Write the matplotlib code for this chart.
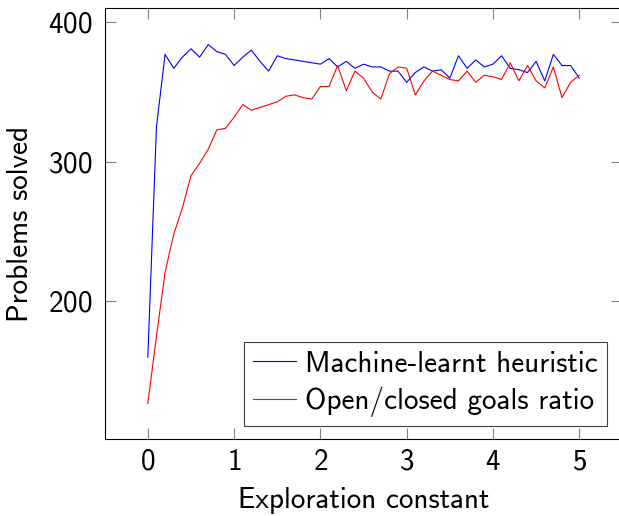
import matplotlib
matplotlib.use("Agg")
import matplotlib.pyplot as plt

# exploration constant grid (0.0 .. 5.0 step 0.1)
exploration = [i / 10 for i in range(51)]

machine_learnt = [160, 325, 377, 367, 375, 381, 375, 384, 379, 377,
                  369, 375, 380, 372, 365, 376, 374, 373, 372, 371,
                  370, 374, 368, 372, 367, 370, 368, 368, 365, 365,
                  357, 364, 368, 365, 366, 360, 376, 367, 373, 368,
                  370, 376, 367, 366, 364, 372, 358, 377, 369, 369,
                  360]

open_closed = [127, 175, 221, 248, 267, 290, 299, 309, 323, 324,
               332, 341, 337, 339, 341, 343, 347, 348, 346, 345,
               354, 354, 369, 351, 365, 360, 350, 345, 363, 368,
               367, 348, 358, 365, 362, 359, 358, 365, 357, 362,
               361, 359, 371, 358, 369, 358, 353, 368, 346, 357,
               362]

x_ticks = [0, 1, 2, 3, 4, 5]
y_ticks = [200, 300, 400]

plt.rcParams['font.family'] = ['cmss10', 'DejaVu Sans']
plt.rcParams['font.size'] = 21
plt.rcParams['axes.formatter.use_mathtext'] = True

fig = plt.figure(figsize=(6.19, 5.16), dpi=100)
ax = fig.add_axes([0.1691, 0.1492, 0.8364, 0.8347])

ax.plot(exploration, machine_learnt, color='blue', lw=0.8, label='Machine-learnt heuristic')
ax.plot(exploration, open_closed, color='red', lw=0.8, label='Open/closed goals ratio')

ax.set_xlim(-0.5, 5.5)
ax.set_ylim(101.5, 410)
ax.set_xticks(x_ticks)
ax.set_yticks(y_ticks)
ax.tick_params(direction='in', length=8, width=0.8, color='0.5',
               top=True, right=True, labelcolor='black')
ax.tick_params(axis='x', pad=7)
ax.tick_params(axis='y', pad=9)
for s in ax.spines.values():
    s.set_linewidth(0.8)

ax.set_xlabel('Exploration constant', labelpad=8)
ax.set_ylabel('Problems solved', labelpad=10)

leg = ax.legend(loc='lower right', bbox_to_anchor=(0.980, 0.175),
                bbox_transform=fig.transFigure, borderaxespad=0,
                fancybox=False, framealpha=1, edgecolor='0.25',
                handlelength=1.5, handletextpad=0.3, borderpad=0.3,
                labelspacing=0.3)
leg.get_frame().set_linewidth(0.8)

fig.savefig('out.png', dpi=100)
